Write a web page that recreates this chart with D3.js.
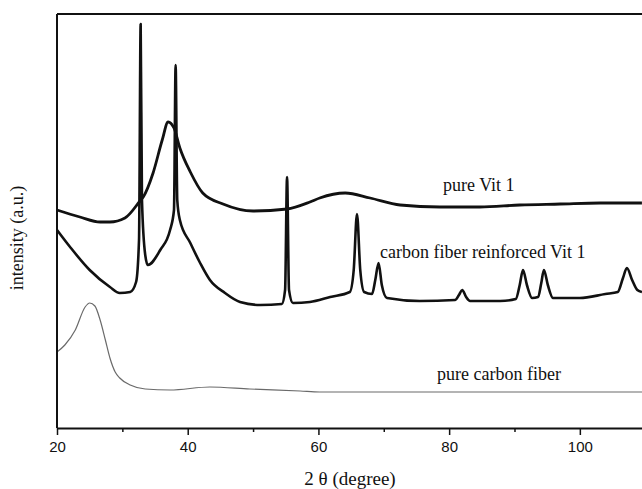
<!DOCTYPE html>
<html>
<head>
<meta charset="utf-8">
<script src="https://cdn.jsdelivr.net/npm/d3@7"></script>
<style>
  body { margin: 0; background: #fff; }
</style>
</head>
<body>
<script>
var chartWidth = 642;
var chartHeight = 489;

// x ticks (2 theta, degree)
var majorTicks = [20, 40, 60, 80, 100];
var minorTicks = [30, 50, 70, 90, 110];

// pure Vit 1: [2theta, intensity]
var pureVit = [
  [20, 218], [23.5, 211], [26.6, 206], [28.1, 206], [30.4, 210], [32.7, 227],
  [33.2, 231], [34.7, 255], [36.1, 288], [37.0, 306], [37.9, 300], [38.8, 280],
  [40.4, 256], [42.3, 235], [45.4, 224], [50.0, 217], [55.2, 219], [58.7, 226],
  [60.2, 230], [64.1, 235], [67.9, 230], [72.5, 223], [78.6, 221], [84.7, 221],
  [90.8, 223], [97.0, 224], [103.1, 225], [109.5, 225]
];

// carbon fiber reinforced Vit 1
var fiberVit = [
  [20, 198], [22.0, 181], [25.0, 158], [28.1, 141], [29.6, 135], [31.2, 136],
  [32.1, 146], [32.55, 188], [32.8, 404], [33.0, 228], [33.5, 173], [33.9, 163],
  [35.8, 178], [37.3, 198], [37.9, 218], [38.15, 363], [38.4, 228], [38.8, 208],
  [40.4, 185], [41.9, 165], [43.4, 148], [45.7, 135], [48.0, 126], [51.1, 123],
  [54.4, 124], [54.9, 138], [55.2, 251], [55.5, 138], [56.1, 125], [58.7, 126],
  [61.8, 131], [64.8, 136], [65.4, 158], [65.9, 214], [66.4, 158], [67.0, 136],
  [68.2, 134], [68.7, 148], [69.2, 165], [69.7, 143], [70.5, 130], [75.5, 127],
  [80.9, 128], [81.5, 133], [82.0, 138], [82.6, 131], [83.2, 127], [87.8, 127],
  [90.2, 129], [90.8, 143], [91.3, 158], [91.9, 143], [92.7, 130], [93.6, 131],
  [94.1, 145], [94.5, 158], [95.1, 143], [95.9, 130], [100.0, 130], [103.9, 134],
  [105.8, 136], [106.6, 150], [107.2, 160], [108.0, 148], [108.8, 138], [109.5, 136]
];

// pure carbon fiber
var pureFiber = [
  [20, 76], [21.2, 83], [22.8, 98], [24.3, 121], [25.0, 125], [25.8, 122],
  [26.6, 108], [27.4, 88], [28.1, 70], [28.9, 56], [29.6, 50], [31.2, 43],
  [33.5, 39], [37.3, 38], [43.4, 41], [49.5, 39], [57.2, 37], [60.2, 36],
  [72.5, 36], [87.8, 36], [110, 36]
];

var svg = d3.select("body").append("svg")
  .attr("width", chartWidth).attr("height", chartHeight);

var x = d3.scaleLinear().domain([20, 110]).range([57, 645.2]);
var y = d3.scaleLinear().domain([0, 414]).range([428, 14]);

var line = d3.line()
  .x(function(d) { return x(d[0]); })
  .y(function(d) { return y(d[1]); })
  .curve(d3.curveMonotoneX);

// curves
svg.append("path").datum(pureFiber)
  .attr("d", line)
  .attr("fill", "none").attr("stroke", "#6a6a6a").attr("stroke-width", 1.2);

svg.append("path").datum(pureVit)
  .attr("d", line)
  .attr("fill", "none").attr("stroke", "#111").attr("stroke-width", 2.8);

svg.append("path").datum(fiberVit)
  .attr("d", line)
  .attr("fill", "none").attr("stroke", "#111").attr("stroke-width", 2.6)
  .attr("stroke-linejoin", "round");

// frame: left and top
svg.append("line").attr("x1", 57).attr("x2", 57).attr("y1", 14).attr("y2", 428)
  .attr("stroke", "#111").attr("stroke-width", 2);
svg.append("line").attr("x1", 57).attr("x2", chartWidth).attr("y1", 14).attr("y2", 14)
  .attr("stroke", "#111").attr("stroke-width", 2);

// bottom axis
var xAxis = d3.axisBottom(x).tickValues(majorTicks).tickSize(7).tickSizeOuter(0);
var gx = svg.append("g").attr("transform", "translate(0,428)").call(xAxis);
gx.select(".domain").attr("stroke", "#111").attr("stroke-width", 2);
gx.selectAll(".tick line").attr("stroke", "#111").attr("stroke-width", 1.5);
gx.selectAll(".tick text")
  .attr("font-family", "Liberation Sans, Arial, sans-serif")
  .attr("font-size", 15).attr("fill", "#111").attr("dy", "0.9em");

var gm = svg.append("g").attr("transform", "translate(0,428)")
  .call(d3.axisBottom(x).tickValues(minorTicks).tickSize(4).tickFormat(""));
gm.select(".domain").remove();
gm.selectAll(".tick line").attr("stroke", "#111").attr("stroke-width", 1.5);

// labels
var serif = "Liberation Serif, Times New Roman, serif";

svg.append("text").attr("x", 350).attr("y", 485).attr("text-anchor", "middle")
  .attr("font-family", serif).attr("font-size", 19).attr("fill", "#111")
  .text("2 θ (degree)");

svg.append("text").attr("transform", "translate(23,238) rotate(-90)")
  .attr("text-anchor", "middle")
  .attr("font-family", serif).attr("font-size", 18).attr("fill", "#111")
  .text("intensity (a.u.)");

svg.append("text").attr("x", 443).attr("y", 191)
  .attr("font-family", serif).attr("font-size", 18).attr("fill", "#111")
  .text("pure Vit 1");

svg.append("text").attr("x", 380).attr("y", 258)
  .attr("font-family", serif).attr("font-size", 18).attr("fill", "#111")
  .text("carbon fiber reinforced Vit 1");

svg.append("text").attr("x", 437).attr("y", 380)
  .attr("font-family", serif).attr("font-size", 18).attr("fill", "#111")
  .text("pure carbon fiber");
</script>
</body>
</html>
